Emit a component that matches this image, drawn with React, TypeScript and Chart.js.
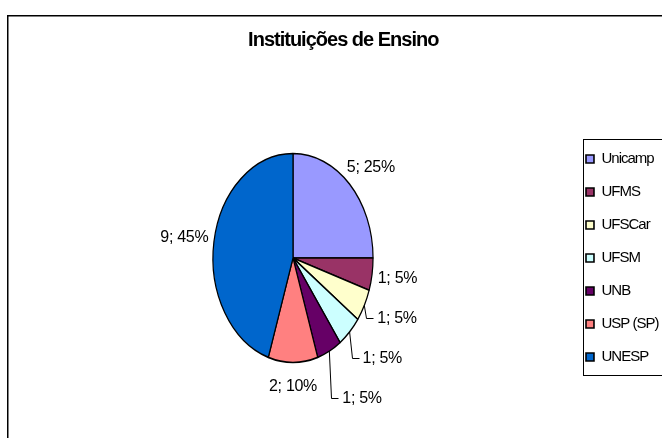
import React, { useEffect, useRef } from "react";
import { Chart, registerables } from "chart.js";

Chart.register(...registerables);

// ---- data ----
const chartTitle = "Instituições de Ensino";
const institutions = ["Unicamp", "UFMS", "UFSCar", "UFSM", "UNB", "USP (SP)", "UNESP"];
const counts = [5, 1, 1, 1, 1, 2, 9];
const sliceColors = ["#9999FF", "#993366", "#FFFFCC", "#CCFFFF", "#660066", "#FF8080", "#0066CC"];

// ---- styling ----
const FONT = "'Liberation Sans', Arial, Helvetica, sans-serif";
const CANVAS_W = 700;
const CANVAS_H = 450;
const PIE_ASPECT = 0.766; // horizontal squash of the pie (drawn as an ellipse)
const LABEL_STACK_GAP = 40;
const TIGHT = "-1px";

const framePlugin = {
  id: "frame",
  beforeLayout(chart: any) {
    chart.ctx.letterSpacing = TIGHT;
  },
  beforeDraw(chart: any) {
    const ctx = chart.ctx;
    ctx.save();
    ctx.fillStyle = "#fff";
    ctx.fillRect(0, 0, chart.width, chart.height);
    ctx.strokeStyle = "#000";
    ctx.lineWidth = 1.5;
    ctx.strokeRect(7.75, 15.75, chart.width + 40, chart.height + 40);
    ctx.restore();
    ctx.letterSpacing = TIGHT;
  },
  afterDraw(chart: any) {
    const hb = chart.legend && chart.legend.legendHitBoxes;
    if (!hb || !hb.length) return;
    const ctx = chart.ctx;
    const first = hb[0];
    const last = hb[hb.length - 1];
    const left = Math.round(first.left - 3) + 0.5;
    const top = Math.round(first.top - 12.5) + 0.5;
    const bottom = Math.round(last.top + last.height + 10.5) + 0.5;
    ctx.save();
    ctx.strokeStyle = "#000";
    ctx.lineWidth = 1;
    ctx.strokeRect(left, top, 300, bottom - top);
    ctx.restore();
  },
};

const ellipsePlugin = {
  id: "ellipsePie",
  beforeDatasetsDraw(chart: any) {
    const arc = chart.getDatasetMeta(0).data[0];
    const ctx = chart.ctx;
    ctx.save();
    ctx.translate(arc.x, 0);
    ctx.scale(PIE_ASPECT, 1);
    ctx.translate(-arc.x, 0);
  },
  afterDatasetsDraw(chart: any) {
    const ctx = chart.ctx;
    ctx.restore();
    const meta = chart.getDatasetMeta(0);
    const total = counts.reduce((a, b) => a + b, 0);
    ctx.save();
    ctx.letterSpacing = "-0.3px";
    ctx.font = `16px ${FONT}`;
    ctx.fillStyle = "#000";
    ctx.strokeStyle = "#000";
    ctx.lineWidth = 1;
    ctx.textBaseline = "middle";
    ctx.textAlign = "center";
    let prevRightY = -Infinity;
    meta.data.forEach((arc: any, i: number) => {
      const { x: cx, y: cy, startAngle, endAngle, outerRadius } = arc.getProps(
        ["x", "y", "startAngle", "endAngle", "outerRadius"],
        true
      );
      const mid = (startAngle + endAngle) / 2;
      const rx = outerRadius * PIE_ASPECT;
      const ry = outerRadius;
      const ax = cx + Math.cos(mid) * rx;
      const ay = cy + Math.sin(mid) * ry;
      const text = `${counts[i]}; ${Math.round((counts[i] / total) * 100)}%`;
      const w = ctx.measureText(text).width;
      let lx = cx + Math.cos(mid) * (rx + w / 2 + 6);
      let ly = cy + Math.sin(mid) * (ry + 24);
      let leader = false;
      if (Math.cos(mid) > 0.01) {
        if (ly < prevRightY + LABEL_STACK_GAP) {
          ly = prevRightY + LABEL_STACK_GAP;
          leader = true;
        }
        prevRightY = ly;
      }
      if (leader) {
        const left = ax + 13;
        lx = left + w / 2;
        const yy = Math.round(ly) + 0.5;
        ctx.beginPath();
        ctx.moveTo(ax, ay);
        ctx.lineTo(Math.round(ax + 2) + 0.5, yy);
        ctx.lineTo(Math.round(left - 4) + 0.5, yy);
        ctx.stroke();
      }
      ctx.fillText(text, lx, ly);
    });
    ctx.restore();
  },
};

export default function App() {
  const canvasRef = useRef<HTMLCanvasElement | null>(null);

  useEffect(() => {
    const canvas = canvasRef.current;
    if (!canvas) return;
    const chart = new Chart(canvas, {
      type: "pie",
      data: {
        labels: institutions,
        datasets: [
          {
            data: counts,
            backgroundColor: sliceColors,
            borderColor: "#000",
            borderWidth: 1.6,
            hoverOffset: 0,
          },
        ],
      },
      options: {
        responsive: false,
        animation: false,
        devicePixelRatio: 1,
        radius: 104.5,
        layout: { padding: { left: 18, right: 31.5, top: 0, bottom: 4.3 } },
        plugins: {
          title: {
            display: true,
            text: chartTitle,
            color: "#000",
            font: { family: FONT, size: 20, weight: "bold" },
            padding: { top: 28.8, bottom: 17.5 },
          },
          legend: {
            position: "right",
            fullSize: false,
            labels: {
              boxWidth: 8,
              boxHeight: 8,
              padding: 18,
              color: "#000",
              font: { family: FONT, size: 15 },
            },
          },
          tooltip: { enabled: false },
        },
      } as any,
      plugins: [framePlugin, ellipsePlugin],
    });
    return () => chart.destroy();
  }, []);

  return (
    <div
      style={{
        position: "fixed",
        left: 0,
        top: 0,
        width: 662,
        height: 438,
        overflow: "hidden",
        background: "#fff",
      }}
    >
      <canvas ref={canvasRef} width={CANVAS_W} height={CANVAS_H} style={{ display: "block" }} />
    </div>
  );
}
